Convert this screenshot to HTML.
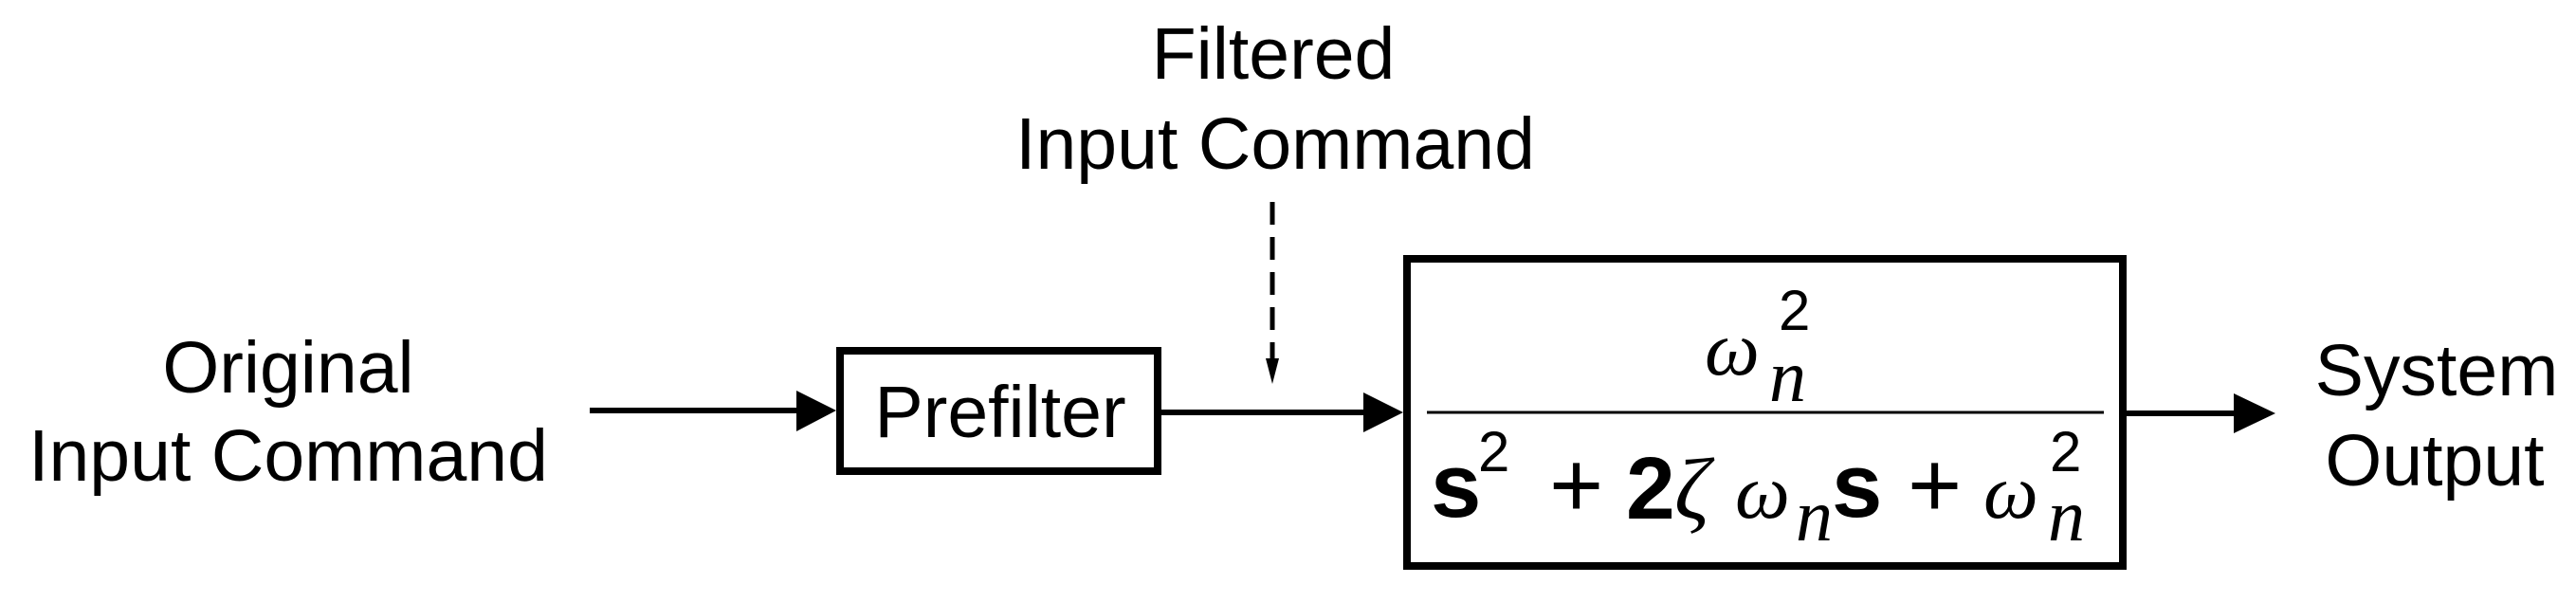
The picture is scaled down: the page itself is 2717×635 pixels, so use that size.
<!DOCTYPE html>
<html><head><meta charset="utf-8"><style>
html,body{margin:0;padding:0;background:#fff;}
svg{display:block;}
.t{font-family:"Liberation Sans",Arial,sans-serif;font-size:77px;fill:#000;}
.it{font-family:"Liberation Serif",serif;font-style:italic;fill:#000;}
.sn{font-family:"Liberation Sans",sans-serif;fill:#000;}
</style></head><body>
<svg width="2717" height="635" viewBox="0 0 2717 635" xmlns="http://www.w3.org/2000/svg">
<!-- labels -->
<text class="t" x="304" y="414" text-anchor="middle">Original</text>
<text class="t" x="304" y="507" text-anchor="middle">Input Command</text>
<text class="t" x="1343" y="83" text-anchor="middle">Filtered</text>
<text class="t" x="1345" y="178" text-anchor="middle">Input Command</text>
<text class="t" x="2570" y="417" text-anchor="middle">System</text>
<text class="t" x="2568" y="512" text-anchor="middle">Output</text>

<!-- prefilter box -->
<rect x="886" y="370" width="335" height="127" fill="none" stroke="#000" stroke-width="8"/>
<text class="t" x="1055" y="461" text-anchor="middle">Prefilter</text>

<!-- arrows -->
<line x1="622" y1="433" x2="845" y2="433" stroke="#000" stroke-width="6"/>
<polygon points="840,412 882,433 840,455" fill="#000"/>
<line x1="1225" y1="435" x2="1444" y2="435" stroke="#000" stroke-width="6"/>
<polygon points="1438,414 1480,435 1438,456" fill="#000"/>
<line x1="2243" y1="436" x2="2362" y2="436" stroke="#000" stroke-width="6"/>
<polygon points="2356,415 2400,436 2356,457" fill="#000"/>

<!-- dashed arrow -->
<line x1="1342" y1="213" x2="1342" y2="382" stroke="#000" stroke-width="5" stroke-dasharray="24,13"/>
<polygon points="1335,378 1349,378 1342,405" fill="#000"/>

<!-- big box -->
<rect x="1484" y="273" width="755" height="324" fill="none" stroke="#000" stroke-width="8"/>
<line x1="1505" y1="435" x2="2219" y2="435" stroke="#000" stroke-width="3"/>

<!-- numerator -->
<text class="it" x="1798" y="395" font-size="82">ω</text>
<text class="it" x="1866" y="423" font-size="78">n</text>
<text class="sn" x="1876" y="348" font-size="60">2</text>

<!-- denominator -->
<text class="sn" x="1509" y="545" font-size="96" font-weight="bold">s</text>
<text class="sn" x="1559" y="497" font-size="60">2</text>
<text class="sn" x="1634" y="545" font-size="98">+</text>
<text class="sn" x="1715" y="547" font-size="93" font-weight="bold">2</text>
<text class="it" x="1766" y="547" font-size="92">ζ</text>
<text class="it" x="1830" y="546" font-size="82">ω</text>
<text class="it" x="1894" y="570" font-size="78">n</text>
<text class="sn" x="1932" y="545" font-size="96" font-weight="bold">s</text>
<text class="sn" x="2012" y="545" font-size="98">+</text>
<text class="it" x="2092" y="546" font-size="82">ω</text>
<text class="it" x="2160" y="570" font-size="78">n</text>
<text class="sn" x="2162" y="497" font-size="60">2</text>
</svg>
</body></html>
